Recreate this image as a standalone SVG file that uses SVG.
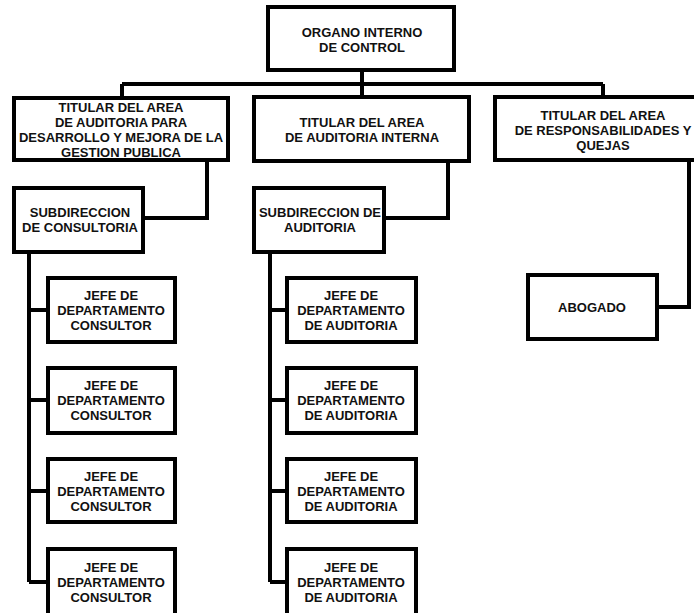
<svg xmlns="http://www.w3.org/2000/svg" width="694" height="613" viewBox="0 0 694 613">
<style>
.box{fill:#fff;stroke:#000;stroke-width:4}
.ln{fill:none;stroke:#000;stroke-width:4}
text{font-family:"Liberation Sans",Arial,sans-serif;font-weight:bold;font-size:13px;fill:#111;text-anchor:middle}
</style>
<rect width="694" height="613" fill="#fff"/>
<g id="connectors">
<path class="ln" d="M362 70V84M122 84H603M122 84V98M362 84V97M603 84V97"/>
<path class="ln" d="M207 160V218H143"/>
<path class="ln" d="M448 161V218H384"/>
<path class="ln" d="M689 160V307H657"/>
<path class="ln" d="M29 252V582M29 310H48M29 400H48M29 491H48M29 582H48"/>
<path class="ln" d="M270 252V582M270 310H287M270 400H287M270 491H287M270 582H287"/>
</g>
<g id="organo"><rect class="box" x="268" y="7" width="186" height="63"/><text x="362" y="37">ORGANO INTERNO</text><text x="362" y="52">DE CONTROL</text></g>
<g id="titular-desarrollo"><rect class="box" x="14" y="98" width="214" height="62"/><text x="121" y="112">TITULAR DEL AREA</text><text x="121" y="127">DE AUDITORIA PARA</text><text x="121" y="142">DESARROLLO Y MEJORA DE LA</text><text x="121" y="157">GESTION PUBLICA</text></g>
<g id="titular-interna"><rect class="box" x="254" y="97" width="215" height="64"/><text x="362" y="127">TITULAR DEL AREA</text><text x="362" y="142">DE AUDITORIA INTERNA</text></g>
<g id="titular-responsabilidades"><rect class="box" x="495" y="97" width="216" height="63"/><text x="603" y="120">TITULAR DEL AREA</text><text x="603" y="135">DE RESPONSABILIDADES Y</text><text x="603" y="150">QUEJAS</text></g>
<g id="sub-consultoria"><rect class="box" x="14" y="188" width="129" height="64"/><text x="80" y="217">SUBDIRECCION</text><text x="80" y="232">DE CONSULTORIA</text></g>
<g id="sub-auditoria"><rect class="box" x="254" y="188" width="130" height="64"/><text x="320" y="217">SUBDIRECCION DE</text><text x="320" y="232">AUDITORIA</text></g>
<g id="abogado"><rect class="box" x="528" y="275" width="129" height="64"/><text x="592" y="312">ABOGADO</text></g>
<g id="jefe-c1"><rect class="box" x="48" y="278" width="127" height="64"/><text x="111" y="300">JEFE DE</text><text x="111" y="315">DEPARTAMENTO</text><text x="111" y="330">CONSULTOR</text></g>
<g id="jefe-c2"><rect class="box" x="48" y="368" width="127" height="65"/><text x="111" y="390">JEFE DE</text><text x="111" y="405">DEPARTAMENTO</text><text x="111" y="420">CONSULTOR</text></g>
<g id="jefe-c3"><rect class="box" x="48" y="459" width="127" height="63"/><text x="111" y="481">JEFE DE</text><text x="111" y="496">DEPARTAMENTO</text><text x="111" y="511">CONSULTOR</text></g>
<g id="jefe-c4"><rect class="box" x="48" y="549" width="127" height="68"/><text x="111" y="572">JEFE DE</text><text x="111" y="587">DEPARTAMENTO</text><text x="111" y="602">CONSULTOR</text></g>
<g id="jefe-a1"><rect class="box" x="287" y="278" width="129" height="64"/><text x="351" y="300">JEFE DE</text><text x="351" y="315">DEPARTAMENTO</text><text x="351" y="330">DE AUDITORIA</text></g>
<g id="jefe-a2"><rect class="box" x="287" y="368" width="129" height="65"/><text x="351" y="390">JEFE DE</text><text x="351" y="405">DEPARTAMENTO</text><text x="351" y="420">DE AUDITORIA</text></g>
<g id="jefe-a3"><rect class="box" x="287" y="459" width="129" height="63"/><text x="351" y="481">JEFE DE</text><text x="351" y="496">DEPARTAMENTO</text><text x="351" y="511">DE AUDITORIA</text></g>
<g id="jefe-a4"><rect class="box" x="287" y="549" width="129" height="68"/><text x="351" y="572">JEFE DE</text><text x="351" y="587">DEPARTAMENTO</text><text x="351" y="602">DE AUDITORIA</text></g>
</svg>
